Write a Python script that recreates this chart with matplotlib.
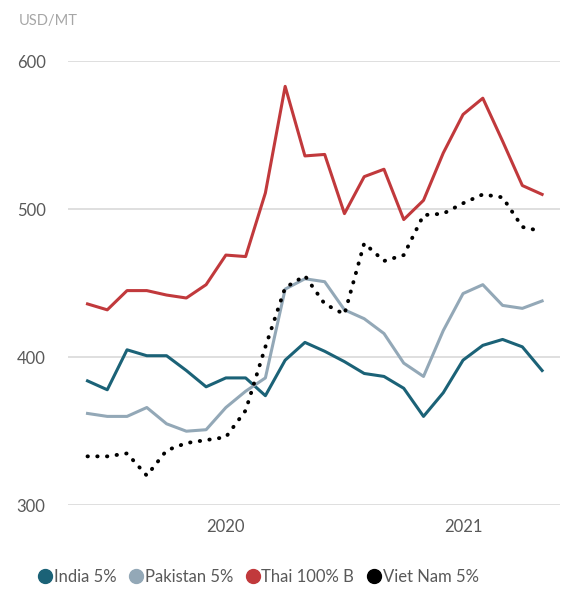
import matplotlib.pyplot as plt
from matplotlib.lines import Line2D

# monthly prices, Jun 2019 - May 2021 (USD/MT)
months = list(range(24))
india = [384, 378, 405, 401, 401, 391, 380, 386, 386, 374, 398, 410,
         404, 397, 389, 387, 379, 360, 376, 398, 408, 412, 407, 391]
pakistan = [362, 360, 360, 366, 355, 350, 351, 366, 377, 386, 446, 453,
            451, 432, 426, 416, 396, 387, 418, 443, 449, 435, 433, 438]
thai = [436, 432, 445, 445, 442, 440, 449, 469, 468, 511, 583, 536,
        537, 497, 522, 527, 493, 506, 538, 564, 575, 546, 516, 510]
vietnam = [333, 333, 335, 320, 337, 342, 344, 346, 364, 407, 447, 455,
           436, 429, 477, 465, 469, 496, 497, 504, 510, 508, 488, 485]

year_ticks = [7, 19]
year_labels = ["2020", "2021"]
series_names = ["India 5%", "Pakistan 5%", "Thai 100% B", "Viet Nam 5%"]
colors = ["#1b6277", "#93a8b7", "#c1393c", "#000000"]

plt.rcParams['font.family'] = ['Lato', 'DejaVu Sans']

fig = plt.figure(figsize=(5.79, 6.0), dpi=100)
ax = fig.add_axes([0.117, 0.158, 0.85, 0.74])

ax.plot(months, india, color=colors[0], lw=2.2, clip_on=False)
ax.plot(months, pakistan, color=colors[1], lw=2.2, clip_on=False)
ax.plot(months, thai, color=colors[2], lw=2.2, clip_on=False)
ax.plot(months, vietnam, color=colors[3], lw=2.8,
        linestyle=(0, (0.1, 2.4)), dash_capstyle='round', clip_on=False)

ax.set_ylim(300, 600)
ax.set_xlim(-1, 23.9)
ax.set_yticks([300, 400, 500, 600])
ax.set_xticks(year_ticks)
ax.set_xticklabels(year_labels)
ax.grid(axis='y', color='#d9d9d9', lw=1.2)
ax.set_axisbelow(True)
for s in ax.spines.values():
    s.set_visible(False)
ax.tick_params(axis='y', length=0, pad=16, labelsize=12, labelcolor='#595959')
ax.tick_params(axis='x', length=0, pad=10, labelsize=12, labelcolor='#595959')

fig.text(0.033, 0.965, "USD/MT", fontsize=10.5, color='#a6a6a6', va='center')

handles = [Line2D([], [], marker='o', linestyle='none', markersize=10,
                  markerfacecolor=c, markeredgecolor=c) for c in colors]
fig.legend(handles, series_names, loc='center', bbox_to_anchor=(0.446, 0.038),
           ncol=4, frameon=False, fontsize=12, handletextpad=0.05,
           columnspacing=0.75, handlelength=0.9, labelcolor='#595959')

fig.savefig("out.png", dpi=100)
